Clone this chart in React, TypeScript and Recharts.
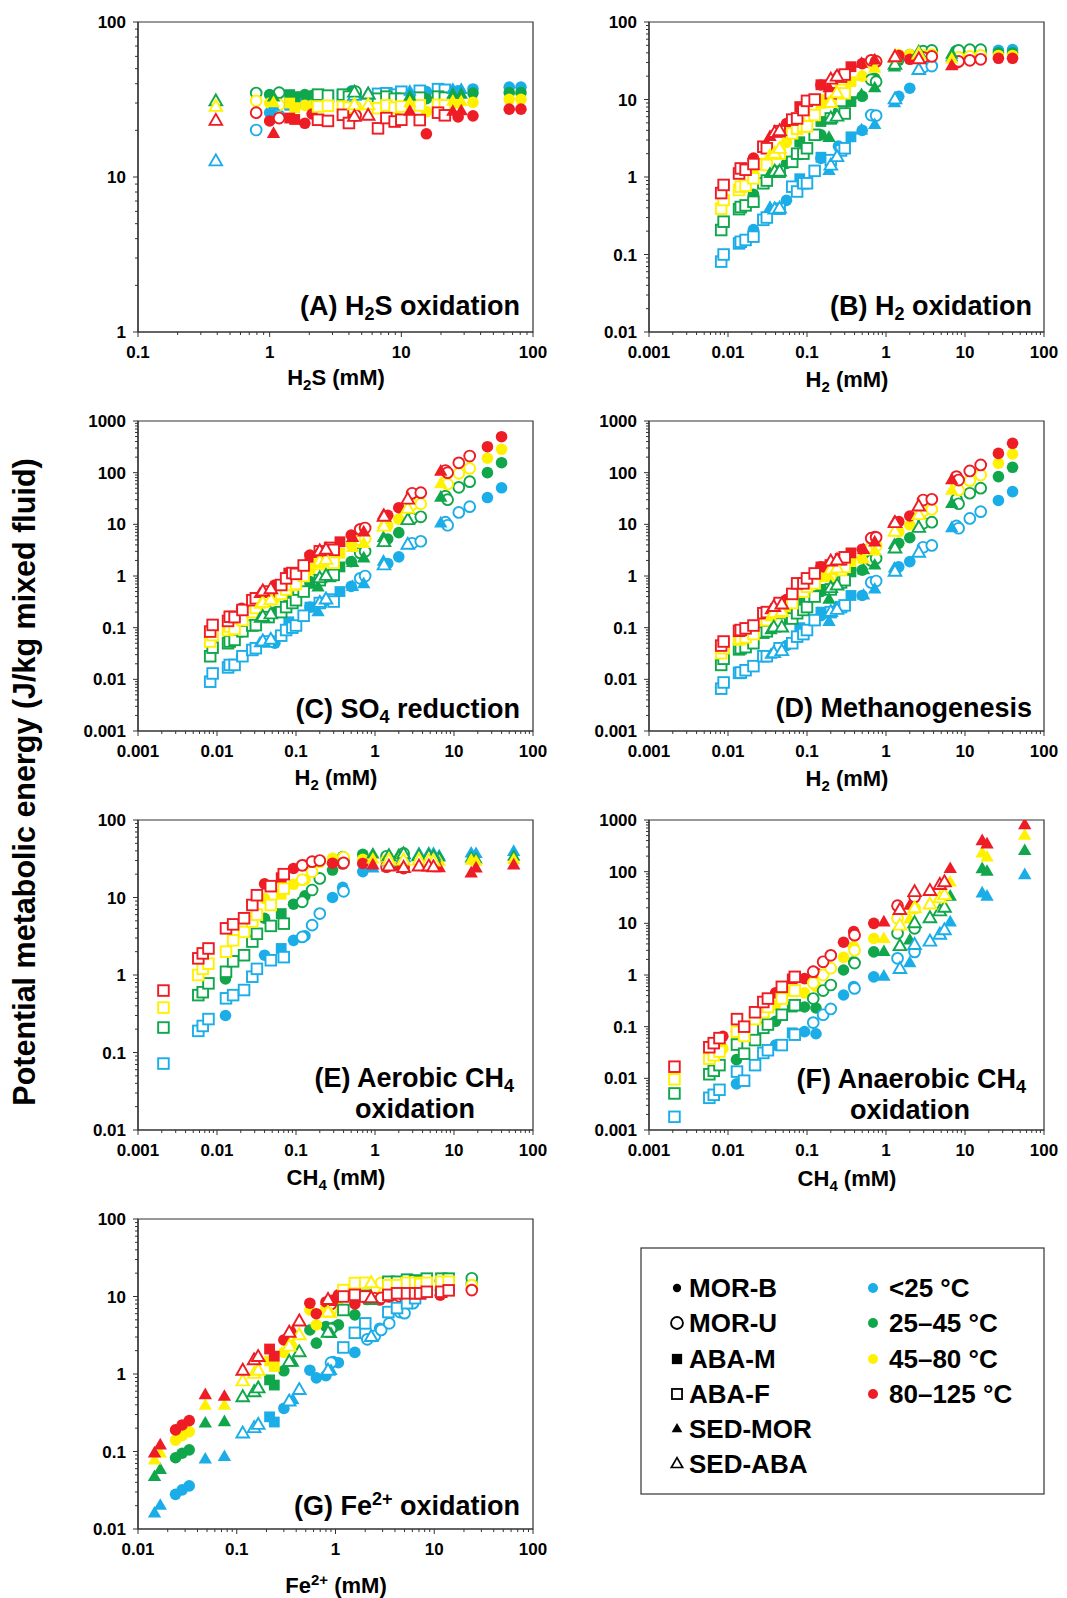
import React from "react";
import { ScatterChart, Scatter, XAxis, YAxis, ReferenceArea } from "recharts";

type Row = (number | null)[]; // [x, <25, 25-45, 45-80, 80-125]

const FONT = "'Liberation Sans', Arial, Helvetica, sans-serif";
const AXIS_COLOR = "#333";

const TEMP_COLORS = ["#1BADE8", "#10A64C", "#FFF100", "#EE1C24"];
const TEMP_LABELS = ["<25 °C", "25–45 °C", "45–80 °C", "80–125 °C"];
const SOURCE_LABELS = ["MOR-B", "MOR-U", "ABA-M", "ABA-F", "SED-MOR", "SED-ABA"];
const SOURCE_SHAPES = ["circle", "circleOpen", "square", "squareOpen", "triangle", "triangleOpen"];

// decade tick values
const DEC_A_X = [0.1, 1, 10, 100];
const DEC_A_Y = [1, 10, 100];
const DEC_H2_X = [0.001, 0.01, 0.1, 1, 10, 100];
const DEC_B_Y = [0.01, 0.1, 1, 10, 100];
const DEC_CD_Y = [0.001, 0.01, 0.1, 1, 10, 100, 1000];
const DEC_G_X = [0.01, 0.1, 1, 10, 100];

// ---------- Panel A: H2S oxidation ----------
const A_MORB: Row[] = [
  [1.0, 26, 34, 30, 23], [1.85, 30.5, 34, 29, 22.2], [2.1, 31, 33.5, 29, 25.5], [4.2, 36, 35.5, 30, 24.5],
  [15.5, 35.6, 32, 26.4, 19], [27, 36, 33, 30, 24.4], [35, 37, 34.8, 30.3, 24.8], [66, 38, 35, 31.7, 27.4], [81, 38, 35, 31.7, 27.4],
];
const A_MORU: Row[] = [[0.79, 20.1, 34.8, 31, 26], [1.18, 24.8, 35, 29.2, 24], [4.5, 34, 35.5, 28.5, 25]];
const A_ABAM: Row[] = [[1.42, 29, 34, 30, 24], [1.55, 29.5, 33, 28, 23.5]];
const A_ABAF: Row[] = [
  [2.33, 31.8, 34, 28.5, 23.4], [2.77, 32.8, 33.5, 28.8, 23], [3.6, 33.4, 34, 28.5, 25.2], [4.0, 33, 33, 28, 22.3],
  [6.65, 34.4, 32, 27.8, 20.6], [7.7, 34.7, 33, 29, 24], [8.9, 34, 32, 28, 22.8], [10, 35.5, 32, 28.5, 23.4],
  [13.8, 36, 32.5, 29, 23.3], [19, 36.9, 33, 29.2, 26], [21.4, 36.5, 32.5, 29, 25],
];
const A_SEDMOR: Row[] = [[1.07, 28.5, 32.7, 30, 19], [11.6, 35.6, 33, 30, 26.4], [24.6, 36.5, 34, 30.7, 26.4], [28.5, 36.5, 34, 30.5, 26.6]];
const A_SEDABA: Row[] = [[0.39, 12.6, 30.7, 28.3, 23], [4.4, 33.4, 35, 29, 24.4], [5.6, 34, 34, 29, 24.8]];

// ---------- Panel B: H2 oxidation ----------
const B_MORB: Row[] = [
  [0.021, 0.21, 0.6, 1.1, 1.75], [0.055, 0.5, 1.5, 2.8, 4.9], [0.15, 1.74, 3.5, 10, 15.4], [0.25, 2.5, 7, 12, 20],
  [0.5, 4, 11, 20, 29], [0.72, 6.2, 18.8, 30, 32], [1.45, 11, 32, 38, 37], [2.0, 14, 38, 38, 33], [26.5, 43, 40, 37, 34], [40, 44, 40, 37, 34],
];
const B_MORU: Row[] = [
  [0.65, 6.3, 18, 29.5, 32], [0.75, 6.2, 17, 31, 31], [2.95, 26, 42, 37, 35], [3.8, 27, 43, 38, 36],
  [7.8, 37, 42, 34, 30], [8.3, 38, 43, 35, 31], [11.5, 40, 44, 36, 32], [15.8, 40, 44, 37, 33],
];
const B_ABAM: Row[] = [[0.081, 0.95, 2.85, 5, 8.1], [0.15, 1.8, 5.2, 8.9, 15.5], [0.36, 3.3, 9.4, 17, 26.5]];
const B_ABAF: Row[] = [
  [0.0082, 0.081, 0.207, 0.39, 0.62], [0.0088, 0.1, 0.265, 0.505, 0.79], [0.0138, 0.139, 0.385, 0.68, 1.11],
  [0.0145, 0.146, 0.41, 0.75, 1.29], [0.0167, 0.154, 0.43, 0.77, 1.24], [0.021, 0.17, 0.48, 0.96, 1.47],
  [0.028, 0.28, 0.83, 1.47, 2.46], [0.031, 0.3, 0.9, 1.43, 2.35], [0.045, 0.39, 1.17, 2.0, 3.9],
  [0.065, 0.75, 1.57, 3.66, 5.5], [0.075, 0.65, 2.0, 4.2, 5.7], [0.09, 0.83, 2.0, 4.46, 7.3], [0.1, 0.83, 2.35, 4.5, 9.6],
  [0.125, 1.2, 3.5, 6.3, 10], [0.2, 1.65, 5.7, 10, 12], [0.27, 2.2, 7, 13.3, 19.7], [0.3, 2.35, 6.6, 12, 21],
];
const B_SEDMOR: Row[] = [[0.034, 0.4, 1.1, 1.9, 3.3], [0.19, 1.2, 3.2, 9, 14], [0.49, 4, 11.4, 19.7, 29], [0.72, 4.7, 14, 25, 32], [1.28, 9, 26, 34, 34], [6.8, 35, 38, 33, 27]];
const B_SEDABA: Row[] = [[0.039, 0.38, 1.17, 2.0, 3.7], [0.045, 0.39, 1.17, 2.3, 3.9], [0.2, 1.4, 5.7, 9, 18], [0.24, 1.8, 6, 12, 19.7], [1.3, 10, 28, 35, 35], [2.6, 24, 40, 38, 33]];

// ---------- Panel C: SO4 reduction ----------
const C_MORB: Row[] = [
  [0.0205, 0.028, 0.083, 0.154, 0.237], [0.054, 0.05, 0.2, 0.37, 0.67], [0.15, 0.25, 0.78, 1.3, 2.55], [0.25, 0.35, 1.0, 2.0, 3.2],
  [0.5, 0.63, 1.9, 4, 6.2], [0.72, 0.95, 2.9, 5.4, 8.5], [1.45, 1.75, 5.2, 9.5, 15], [2.0, 2.35, 6.9, 12.6, 21],
  [26.5, 33, 100, 190, 318], [40, 51, 156, 283, 497],
];
const C_MORU: Row[] = [
  [0.65, 0.9, 2.8, 5, 8], [0.75, 1.0, 3, 5.3, 8.5], [2.95, 4.3, 13, 24, 40], [3.8, 4.7, 14, 25, 41],
  [7.8, 11, 35, 65, 110], [8.3, 9.6, 30, 60, 100], [11.5, 17, 52, 97, 155], [15.8, 22, 67, 121, 210],
];
const C_ABAM: Row[] = [[0.081, 0.13, 0.4, 0.7, 1.14], [0.15, 0.25, 0.72, 1.4, 2.3], [0.36, 0.5, 1.5, 2.75, 4.6]];
const C_ABAF: Row[] = [
  [0.0082, 0.009, 0.028, 0.054, 0.084], [0.0088, 0.013, 0.041, 0.072, 0.113], [0.0138, 0.017, 0.05, 0.09, 0.135],
  [0.0145, 0.019, 0.054, 0.105, 0.163], [0.0167, 0.019, 0.058, 0.095, 0.16], [0.021, 0.028, 0.085, 0.14, 0.22],
  [0.028, 0.037, 0.11, 0.2, 0.34], [0.031, 0.04, 0.112, 0.24, 0.37], [0.045, 0.054, 0.16, 0.35, 0.5],
  [0.065, 0.07, 0.2, 0.45, 0.67], [0.075, 0.09, 0.25, 0.55, 0.9], [0.09, 0.1, 0.3, 0.67, 1.14], [0.1, 0.11, 0.34, 0.7, 1.1],
  [0.125, 0.17, 0.5, 1.0, 1.6], [0.2, 0.3, 0.83, 1.7, 3.0], [0.27, 0.35, 1.0, 2.0, 3.5], [0.3, 0.32, 1.05, 1.8, 3.2],
];
const C_SEDMOR: Row[] = [[0.035, 0.05, 0.15, 0.28, 0.45], [0.19, 0.2, 0.6, 1.7, 2.7], [0.52, 0.62, 1.8, 3.5, 5.5], [0.72, 0.7, 2.2, 4.2, 7], [1.28, 1.9, 5.5, 10, 15], [6.8, 10.5, 33, 60, 105]];
const C_SEDABA: Row[] = [[0.038, 0.054, 0.16, 0.3, 0.5], [0.048, 0.058, 0.18, 0.34, 0.55], [0.2, 0.3, 0.9, 1.9, 3.0], [0.24, 0.35, 1.0, 2.04, 3.2], [1.3, 1.6, 4.5, 9, 14], [2.6, 4, 12, 20, 30]];

// ---------- Panel D: Methanogenesis ----------
const D_MORB: Row[] = [
  [0.021, 0.018, 0.05, 0.075, 0.11], [0.055, 0.045, 0.15, 0.24, 0.35], [0.15, 0.17, 0.5, 1.0, 1.5], [0.25, 0.25, 0.72, 1.3, 2.0],
  [0.5, 0.42, 1.3, 2.2, 3.3], [0.72, 0.78, 2.2, 3.8, 5.8], [1.45, 1.5, 4.3, 7.2, 11.3], [2.0, 1.9, 5.5, 9.7, 14.5],
  [26.5, 29, 84, 152, 236], [40, 43, 127, 230, 370],
];
const D_MORU: Row[] = [
  [0.65, 0.75, 2.0, 3.6, 5.4], [0.75, 0.8, 2.2, 3.8, 5.6], [2.95, 3.6, 10.5, 18, 29.6], [3.8, 3.9, 11, 19.5, 30.5],
  [7.8, 9.3, 30.5, 52, 84], [8.3, 8.4, 25, 46, 72], [11.5, 13, 40, 70, 108], [15.8, 17.6, 50, 90, 141],
];
const D_ABAM: Row[] = [[0.081, 0.1, 0.3, 0.5, 0.72], [0.15, 0.2, 0.55, 0.98, 1.5], [0.36, 0.42, 1.2, 1.9, 2.8]];
const D_ABAF: Row[] = [
  [0.0082, 0.0066, 0.019, 0.032, 0.045], [0.0088, 0.0087, 0.025, 0.04, 0.054], [0.0138, 0.0133, 0.038, 0.059, 0.087],
  [0.0145, 0.0135, 0.04, 0.062, 0.09], [0.0167, 0.015, 0.042, 0.065, 0.097], [0.021, 0.018, 0.05, 0.075, 0.11],
  [0.028, 0.028, 0.08, 0.14, 0.19], [0.031, 0.028, 0.085, 0.14, 0.2], [0.045, 0.04, 0.12, 0.2, 0.3],
  [0.065, 0.05, 0.15, 0.3, 0.45], [0.075, 0.067, 0.19, 0.5, 0.72], [0.09, 0.075, 0.22, 0.5, 0.72], [0.1, 0.09, 0.25, 0.62, 0.9],
  [0.125, 0.14, 0.4, 0.72, 1.12], [0.2, 0.2, 0.55, 1.0, 1.6], [0.27, 0.25, 0.75, 1.3, 2.1], [0.3, 0.27, 0.83, 1.5, 2.3],
];
const D_SEDMOR: Row[] = [[0.035, 0.03, 0.09, 0.16, 0.22], [0.19, 0.13, 0.35, 0.95, 1.4], [0.52, 0.42, 1.3, 2.1, 3.2], [0.72, 0.55, 1.6, 3.0, 4.5], [1.28, 1.4, 4, 7, 11], [6.8, 8.5, 25, 45, 72]];
const D_SEDABA: Row[] = [[0.038, 0.032, 0.1, 0.19, 0.25], [0.048, 0.035, 0.1, 0.2, 0.28], [0.2, 0.2, 0.58, 1.3, 1.9], [0.24, 0.22, 0.65, 1.4, 2.0], [1.3, 1.2, 3.4, 7.2, 10.5], [2.6, 2.8, 8.5, 15, 22]];

// ---------- Panel E: Aerobic CH4 oxidation ----------
const E_MORB: Row[] = [
  [0.0128, 0.3, 0.89, null, null], [0.04, 1.8, 5.4, 9.7, 15], [0.093, 2.8, 8.2, 14.8, 23.7], [0.13, 3.2, 10.5, 17, 26],
  [0.29, 10, 22.6, 32, 27.7], [0.39, 13.5, 33.7, 32, 27], [0.7, 21.6, 36, 31, 27.5],
];
const E_MORU: Row[] = [[0.12, 3.1, 8.8, 17, 26], [0.16, 4.4, 12.5, 21.5, 29], [0.2, 6.2, 17.6, 29, 30], [0.4, 12, 30, 33, 28], [1.4, 30, 34, 30, 25], [2.3, 33.6, 37, 30, 24]];
const E_ABAM: Row[] = [[0.065, 2.2, 6.2, 11, 18]];
const E_ABAF: Row[] = [
  [0.0021, 0.072, 0.21, 0.38, 0.63], [0.0058, 0.19, 0.55, 1.0, 1.64], [0.0066, 0.22, 0.6, 1.2, 1.9], [0.0078, 0.27, 0.78, 1.4, 2.2],
  [0.013, 0.5, 1.1, 2.0, 4.0], [0.016, 0.55, 1.5, 2.8, 4.5], [0.022, 0.64, 1.8, 3.6, 5.4], [0.028, 0.95, 2.7, 4.9, 8.0],
  [0.032, 1.2, 3.4, 6.0, 10.7], [0.048, 1.55, 4.3, 8.0, 14], [0.07, 1.7, 4.6, 13, 20],
];
const E_SEDMOR: Row[] = [[0.94, 23.8, 36, 31, 26], [2.0, 28, 35, 30, 25], [6.5, 34, 33, 29, 24], [16.5, 37, 32, 30, 20.5], [19, 36.5, 31, 29, 23.8], [57, 38.9, 33.6, 30.5, 26]];
const E_SEDABA: Row[] = [[1.5, 29, 34, 30, 25], [2.3, 33, 36, 30, 24], [3.6, 35, 34, 30, 25], [4.8, 35.5, 34, 29.5, 25], [5.5, 35, 33, 29, 24.5]];

// ---------- Panel F: Anaerobic CH4 oxidation ----------
const F_MORB: Row[] = [
  [0.0086, null, null, 0.038, 0.065], [0.0128, 0.0078, 0.023, 0.056, 0.08], [0.04, 0.044, 0.127, 0.26, 0.45],
  [0.093, 0.08, 0.24, 0.45, 0.85], [0.13, 0.073, 0.23, 0.6, 1.1], [0.29, 0.41, 1.25, 2.2, 4.3], [0.39, 0.6, 1.8, 3.5, 6.9], [0.7, 0.92, 2.8, 5.1, 10],
];
const F_MORU: Row[] = [[0.12, 0.12, 0.35, 0.7, 1.16], [0.16, 0.17, 0.5, 1.0, 1.8], [0.2, 0.22, 0.64, 1.35, 2.4], [0.4, 0.55, 1.7, 3.0, 5.9], [1.4, 2.1, 6.4, 12.5, 22], [2.3, 2.8, 8, 19.5, 32.5]];
const F_ABAM: Row[] = [[0.065, 0.076, 0.24, 0.48, 0.84]];
const F_ABAF: Row[] = [
  [0.0021, 0.0018, 0.0051, 0.0096, 0.0168], [0.0058, 0.0042, 0.012, 0.024, 0.04], [0.0066, 0.0048, 0.014, 0.028, 0.048],
  [0.0078, 0.006, 0.018, 0.033, 0.06], [0.013, 0.0135, 0.045, 0.08, 0.14], [0.016, 0.009, 0.03, 0.066, 0.1],
  [0.022, 0.018, 0.055, 0.14, 0.19], [0.028, 0.031, 0.095, 0.19, 0.3], [0.032, 0.035, 0.11, 0.24, 0.35],
  [0.048, 0.044, 0.17, 0.35, 0.59], [0.07, 0.07, 0.26, 0.5, 0.92],
];
const F_SEDMOR: Row[] = [[0.94, 0.93, 2.8, 5, 10.5], [2.0, 1.7, 4.7, 12, 22], [6.5, 10.5, 33, 62, 113], [16.5, 38, 112, 226, 392], [19, 33, 100, 190, 338], [57, 86, 252, 497, 800]];
const F_SEDABA: Row[] = [[1.5, 1.3, 3.6, 9, 18], [2.3, 3.8, 10, 19.5, 40], [3.6, 4.4, 12.5, 23, 42], [4.8, 6, 17, 30.5, 55], [5.5, 7.3, 20, 35, 62]];

// ---------- Panel G: Fe2+ oxidation ----------
const G_MORB: Row[] = [
  [0.024, 0.028, 0.083, 0.14, 0.19], [0.028, 0.032, 0.095, 0.16, 0.22], [0.033, 0.036, 0.105, 0.18, 0.25],
  [0.3, 0.36, 1.1, 1.9, 2.75], [0.55, 1.12, 3.7, 6.7, 8.2], [0.64, 0.89, 2.5, 4.3, 6], [0.8, 0.95, 4.1, 7, 8.5],
  [0.95, 1.45, 4.0, 7, 9], [1.07, 1.4, 4.3, 7.5, 10.5], [1.57, 1.9, 5.8, 9, 8], [2.8, 3.9, 12.1, 12.7, 9], [11.5, 12, 16, 13, 10.4],
];
const G_MORU: Row[] = [
  [0.9, 1.4, 3.8, 6.8, 8], [2.1, 2.8, 10, 15, 9.3], [2.5, 3.1, 11, 13, 9.5], [2.9, 3.7, 12.1, 15, 9.6], [3.5, 4.5, 12, 14, 10],
  [4.5, 6.3, 13.5, 14.5, 10], [5, 6.1, 14, 13.5, 10], [6.1, 8.2, 15, 14, 10.5], [24, 14.5, 17.2, 14, 12.1],
];
const G_ABAM: Row[] = [[0.215, 0.28, 0.84, 1.47, 2.1], [0.24, 0.24, 0.72, 1.25, 1.7]];
const G_ABAF: Row[] = [
  [1.2, 2.2, 6.7, 12.1, 10], [1.57, 3.4, 10.5, 14.9, 10.5], [2.0, 4.5, 14, 15, 10], [3.43, 6.3, 15.5, 14, 10.5], [4.2, 7.1, 15.5, 14, 11],
  [5.3, 8.2, 16.5, 15, 11], [6.4, 9.5, 16.1, 15, 11], [7.2, 11, 15.5, 14.5, 11], [8.4, 12.8, 17, 15, 11.5],
  [11.8, 12.8, 17, 15.5, 11.5], [14, 13.4, 17, 15.5, 12],
];
const G_SEDMOR: Row[] = [[0.0147, 0.0159, 0.047, 0.077, 0.095], [0.0168, 0.02, 0.058, 0.095, 0.12], [0.048, 0.079, 0.23, 0.39, 0.535], [0.075, 0.085, 0.24, 0.39, 0.51], [0.37, 0.46, 1.4, 2.4, 3.5], [0.9, 1.1, 3.3, 6, 8.5]];
const G_SEDABA: Row[] = [[0.115, 0.17, 0.5, 0.8, 1.1], [0.15, 0.2, 0.58, 1.0, 1.5], [0.165, 0.22, 0.65, 1.1, 1.65], [0.34, 0.44, 1.43, 2.25, 3.4], [0.43, 0.62, 1.9, 3.15, 4.75], [0.84, 1.1, 3.4, 6.2, 9], [2.3, 3.0, 9, 14.8, 9.5]];

type PanelCfg = { id: string; left: number; top: number; xMajors: number[]; yMajors: number[]; data: Row[][] };

const PANELS: PanelCfg[] = [
  { id: "A", left: 138, top: 22, xMajors: DEC_A_X, yMajors: DEC_A_Y, data: [A_MORB, A_MORU, A_ABAM, A_ABAF, A_SEDMOR, A_SEDABA] },
  { id: "B", left: 649, top: 22, xMajors: DEC_H2_X, yMajors: DEC_B_Y, data: [B_MORB, B_MORU, B_ABAM, B_ABAF, B_SEDMOR, B_SEDABA] },
  { id: "C", left: 138, top: 421, xMajors: DEC_H2_X, yMajors: DEC_CD_Y, data: [C_MORB, C_MORU, C_ABAM, C_ABAF, C_SEDMOR, C_SEDABA] },
  { id: "D", left: 649, top: 421, xMajors: DEC_H2_X, yMajors: DEC_CD_Y, data: [D_MORB, D_MORU, D_ABAM, D_ABAF, D_SEDMOR, D_SEDABA] },
  { id: "E", left: 138, top: 820, xMajors: DEC_H2_X, yMajors: DEC_B_Y, data: [E_MORB, E_MORU, E_ABAM, E_ABAF, E_SEDMOR, E_SEDABA] },
  { id: "F", left: 649, top: 820, xMajors: DEC_H2_X, yMajors: DEC_CD_Y, data: [F_MORB, F_MORU, F_ABAM, F_ABAF, F_SEDMOR, F_SEDABA] },
  { id: "G", left: 138, top: 1219, xMajors: DEC_G_X, yMajors: DEC_B_Y, data: [G_MORB, G_MORU, G_ABAM, G_ABAF, G_SEDMOR, G_SEDABA] },
];

const PLOT_W = 395;
const PLOT_H = 310;

function withMinors(majors: number[]): number[] {
  const out: number[] = [];
  for (let i = 0; i < majors.length - 1; i++) {
    for (let k = 1; k <= 9; k++) out.push(majors[i] * k);
  }
  out.push(majors[majors.length - 1]);
  return out;
}

const isMajor = (v: number, majors: number[]) => majors.some((m) => Math.abs(v / m - 1) < 1e-6);

function drawMarker(kind: string, color: string, cx: number, cy: number, scale = 1) {
  const open = kind.endsWith("Open");
  const fill = open ? "#fff" : color;
  const sw = open ? 1.9 * Math.min(1, scale) : 0;
  if (kind.startsWith("circle")) {
    return <circle cx={cx} cy={cy} r={(open ? 5.4 : 5.8) * scale} fill={fill} stroke={color} strokeWidth={sw} />;
  }
  if (kind.startsWith("square")) {
    const h = (open ? 5.3 : 5.4) * scale;
    return <rect x={cx - h} y={cy - h} width={2 * h} height={2 * h} fill={fill} stroke={color} strokeWidth={sw} />;
  }
  const s = (open ? 6.3 : 6.7) * scale;
  const pts = `${cx},${cy - s * 1.12} ${cx - s},${cy + s * 0.62} ${cx + s},${cy + s * 0.62}`;
  return <polygon points={pts} fill={fill} stroke={color} strokeWidth={sw} strokeLinejoin="miter" />;
}

const makeXTick = (majors: number[]) => (props: any) => {
  const { x, y, payload } = props;
  const v = payload.value;
  const major = isMajor(v, majors);
  return (
    <g>
      <line x1={x} x2={x} y1={y} y2={y + (major ? 5 : 3)} stroke={AXIS_COLOR} strokeWidth={1} />
      {major && (
        <text x={x} y={y + 26} textAnchor="middle" fontFamily={FONT} fontWeight="bold" fontSize={17} fill="#000">
          {String(v)}
        </text>
      )}
    </g>
  );
};

const makeYTick = (majors: number[]) => (props: any) => {
  const { x, y, payload } = props;
  const v = payload.value;
  const major = isMajor(v, majors);
  return (
    <g>
      <line x1={x} x2={x - (major ? 5 : 3)} y1={y} y2={y} stroke={AXIS_COLOR} strokeWidth={1} />
      {major && (
        <text x={x - 12} y={y + 6} textAnchor="end" fontFamily={FONT} fontWeight="bold" fontSize={17} fill="#000">
          {String(v)}
        </text>
      )}
    </g>
  );
};

function Panel({ cfg }: { cfg: PanelCfg }) {
  const ML = 70, MT = 10, MR = 25, XH = 40;
  const xd = [cfg.xMajors[0], cfg.xMajors[cfg.xMajors.length - 1]];
  const yd = [cfg.yMajors[0], cfg.yMajors[cfg.yMajors.length - 1]];
  const series: React.ReactNode[] = [];
  cfg.data.forEach((rows, si) => {
    TEMP_COLORS.forEach((color, ci) => {
      const pts = rows.filter((r) => r[ci + 1] != null).map((r) => ({ x: r[0] as number, y: r[ci + 1] as number }));
      if (!pts.length) return;
      const kind = SOURCE_SHAPES[si];
      series.push(
        <Scatter
          key={`${cfg.id}-${si}-${ci}`}
          data={pts}
          isAnimationActive={false}
          shape={(p: any) => drawMarker(kind, color, p.cx, p.cy)}
        />
      );
    });
  });
  return (
    <div style={{ position: "absolute", left: cfg.left - ML, top: cfg.top - MT }}>
      <ScatterChart width={PLOT_W + ML + MR} height={PLOT_H + MT + XH} margin={{ top: MT, right: MR, bottom: 0, left: 0 }}>
        <XAxis
          type="number"
          dataKey="x"
          scale="log"
          domain={xd}
          allowDataOverflow
          ticks={withMinors(cfg.xMajors)}
          interval={0}
          tick={makeXTick(cfg.xMajors)}
          tickLine={false}
          tickSize={0}
          tickMargin={0}
          height={XH}
          axisLine={{ stroke: AXIS_COLOR, strokeWidth: 1.2 }}
        />
        <YAxis
          type="number"
          dataKey="y"
          scale="log"
          domain={yd}
          allowDataOverflow
          ticks={withMinors(cfg.yMajors)}
          interval={0}
          tick={makeYTick(cfg.yMajors)}
          tickLine={false}
          tickSize={0}
          tickMargin={0}
          width={ML}
          axisLine={{ stroke: AXIS_COLOR, strokeWidth: 1.2 }}
        />
        <ReferenceArea x1={xd[0]} x2={xd[1]} y1={yd[0]} y2={yd[1]} fill="none" fillOpacity={0} stroke={AXIS_COLOR} strokeWidth={1.2} />
        {series}
      </ScatterChart>
    </div>
  );
}

const T = { fontFamily: FONT, fontWeight: "bold" as const, fill: "#000" };

function Overlay() {
  const PL = 27; // panel label size
  const PS = 18; // sub size in panel labels
  const AT = 22; // axis title size
  const AS = 15;
  const legendRows = [1297, 1332, 1368, 1403, 1438, 1473];
  const legendScale = [0.72, 1.1, 0.95, 0.95, 0.8, 0.9];
  return (
    <svg width={1067} height={1598} style={{ position: "absolute", left: 0, top: 0, pointerEvents: "none" }}>
      {/* y label */}
      <text transform="translate(35,782) rotate(-90)" textAnchor="middle" fontSize={30.5} {...T}>
        Potential metabolic energy (J/kg mixed fluid)
      </text>

      {/* panel labels */}
      <text x={520} y={315} textAnchor="end" fontSize={PL} {...T}>
        (A) H<tspan fontSize={PS} dy={5}>2</tspan><tspan dy={-5}>S oxidation</tspan>
      </text>
      <text x={1032} y={315} textAnchor="end" fontSize={PL} {...T}>
        (B) H<tspan fontSize={PS} dy={5}>2</tspan><tspan dy={-5}> oxidation</tspan>
      </text>
      <text x={520} y={718} textAnchor="end" fontSize={PL} {...T}>
        (C) SO<tspan fontSize={PS} dy={5}>4</tspan><tspan dy={-5}> reduction</tspan>
      </text>
      <text x={1032} y={717} textAnchor="end" fontSize={PL} {...T}>
        (D) Methanogenesis
      </text>
      <text x={514} y={1087} textAnchor="end" fontSize={PL} {...T}>
        (E) Aerobic CH<tspan fontSize={PS} dy={5}>4</tspan>
      </text>
      <text x={415} y={1118} textAnchor="middle" fontSize={PL} {...T}>oxidation</text>
      <text x={1026} y={1088} textAnchor="end" fontSize={PL} {...T}>
        (F) Anaerobic CH<tspan fontSize={PS} dy={5}>4</tspan>
      </text>
      <text x={910} y={1119} textAnchor="middle" fontSize={PL} {...T}>oxidation</text>
      <text x={520} y={1515} textAnchor="end" fontSize={PL} {...T}>
        (G) Fe<tspan fontSize={PS} dy={-10}>2+</tspan><tspan dy={10}> oxidation</tspan>
      </text>

      {/* axis titles */}
      <text x={336} y={385} textAnchor="middle" fontSize={AT} {...T}>
        H<tspan fontSize={AS} dy={5}>2</tspan><tspan dy={-5}>S (mM)</tspan>
      </text>
      <text x={847} y={387} textAnchor="middle" fontSize={AT} {...T}>
        H<tspan fontSize={AS} dy={5}>2</tspan><tspan dy={-5}> (mM)</tspan>
      </text>
      <text x={336} y={785} textAnchor="middle" fontSize={AT} {...T}>
        H<tspan fontSize={AS} dy={5}>2</tspan><tspan dy={-5}> (mM)</tspan>
      </text>
      <text x={847} y={786} textAnchor="middle" fontSize={AT} {...T}>
        H<tspan fontSize={AS} dy={5}>2</tspan><tspan dy={-5}> (mM)</tspan>
      </text>
      <text x={336} y={1185} textAnchor="middle" fontSize={AT} {...T}>
        CH<tspan fontSize={AS} dy={5}>4</tspan><tspan dy={-5}> (mM)</tspan>
      </text>
      <text x={847} y={1186} textAnchor="middle" fontSize={AT} {...T}>
        CH<tspan fontSize={AS} dy={5}>4</tspan><tspan dy={-5}> (mM)</tspan>
      </text>
      <text x={336} y={1593} textAnchor="middle" fontSize={AT} {...T}>
        Fe<tspan fontSize={AS} dy={-8}>2+</tspan><tspan dy={8}> (mM)</tspan>
      </text>

      {/* legend */}
      <rect x={641} y={1248} width={403} height={246} fill="none" stroke="#333" strokeWidth={1.2} />
      {SOURCE_LABELS.map((lab, i) => (
        <g key={lab}>
          {drawMarker(SOURCE_SHAPES[i], "#000", 677, legendRows[i] - 9, legendScale[i])}
          <text x={689} y={legendRows[i]} fontSize={26} {...T}>{lab}</text>
        </g>
      ))}
      {TEMP_LABELS.map((lab, i) => (
        <g key={lab}>
          <circle cx={873} cy={legendRows[i] - 9} r={5} fill={TEMP_COLORS[i]} />
          <text x={889} y={legendRows[i]} fontSize={26} {...T}>{lab}</text>
        </g>
      ))}
    </svg>
  );
}

export default function App() {
  return (
    <div style={{ position: "absolute", left: 0, top: 0, width: 1067, height: 1598, background: "#fff" }}>
      {PANELS.map((p) => (
        <Panel key={p.id} cfg={p} />
      ))}
      <Overlay />
    </div>
  );
}
